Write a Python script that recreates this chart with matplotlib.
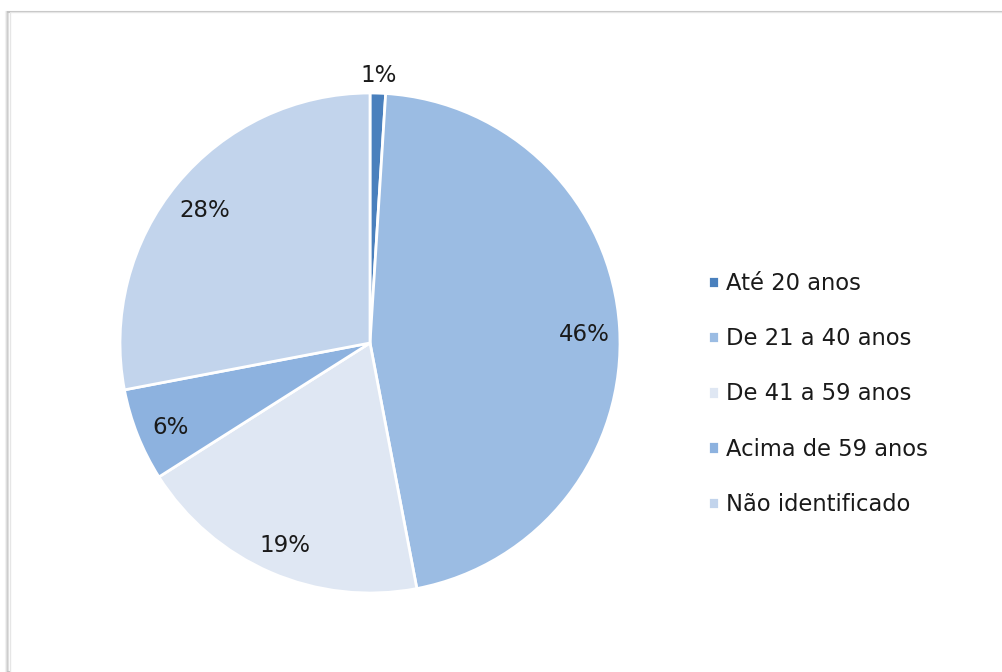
import numpy as np
import matplotlib
matplotlib.use('Agg')
import matplotlib.pyplot as plt
from matplotlib.patches import Rectangle

labels = ['Até 20 anos', 'De 21 a 40 anos', 'De 41 a 59 anos',
          'Acima de 59 anos', 'Não identificado']
values = [1, 46, 19, 6, 28]
colors = ['#4a80bd', '#9bbce3', '#dfe7f3', '#8db2df', '#c2d4ec']

plt.rcParams['font.family'] = ['DejaVu Sans']

fig = plt.figure(figsize=(10.02, 6.72), dpi=100)

# frame with a soft shadow on the left
for i, a in enumerate([0.05, 0.08, 0.12]):
    fig.patches.append(Rectangle((6 / 1002 + i / 1002, 0), 1, 660 / 672,
                                 transform=fig.transFigure,
                                 facecolor='none', edgecolor='black',
                                 alpha=a, linewidth=1.5, zorder=-10))
fig.patches.append(Rectangle((10 / 1002, -0.01), 1, 660 / 672 + 0.01,
                             transform=fig.transFigure, facecolor='white',
                             edgecolor='#e6e6e6', linewidth=1, zorder=-9))

ax = fig.add_axes([120 / 1002, 79 / 672, 500 / 1002, 500 / 672])
ax.patch.set_visible(False)
wedges, _ = ax.pie(values, colors=colors, startangle=90, counterclock=False,
                   wedgeprops=dict(edgecolor='white', linewidth=2))
ax.set_aspect('equal')
ax.set_xlim(-1, 1)
ax.set_ylim(-1, 1)

for w, v in zip(wedges, values):
    ang = np.deg2rad((w.theta1 + w.theta2) / 2)
    r = 1.09 if v < 3 else 0.86
    ax.text(r * np.cos(ang), r * np.sin(ang) - 0.02, f'{v}%', ha='center',
            va='center', fontsize=16.5, color='#1a1a1a')

fig.legend(wedges, labels, loc='center left',
           bbox_to_anchor=(688 / 1002, 1 - 394 / 672), frameon=False,
           fontsize=16.3, handlelength=0.45, handleheight=0.45,
           handletextpad=0.35, labelspacing=1.42, labelcolor='#1a1a1a')

fig.savefig('out.png', dpi=100)
